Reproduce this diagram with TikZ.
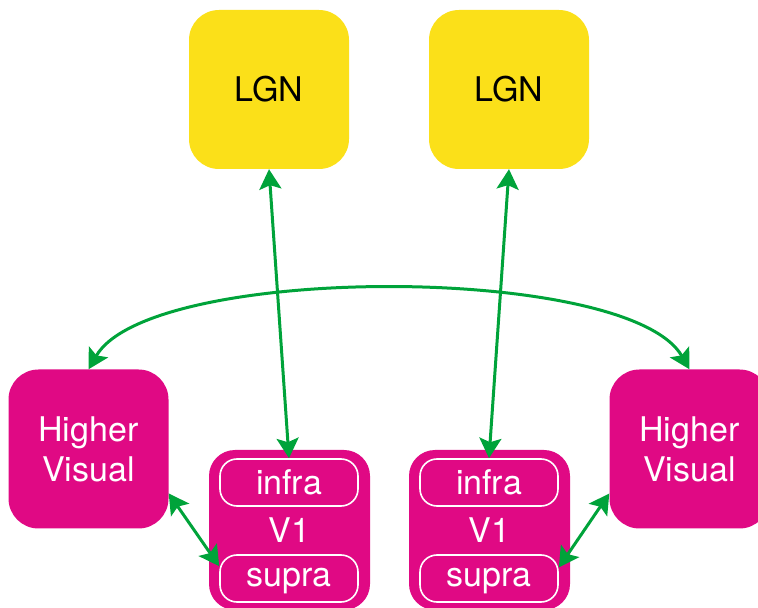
\documentclass[tikz,border=0pt]{standalone}
\usepackage{fontspec}
\setmainfont{TeX Gyre Heros}
\usepackage{tikz}
\usetikzlibrary{arrows.meta}
\definecolor{lgnyellow}{RGB}{251,224,25}
\definecolor{cortex}{RGB}{224,9,132}
\definecolor{fibre}{RGB}{0,163,58}

\begin{document}
\begin{tikzpicture}[x=1pt,y=1pt,
  area/.style={rounded corners=30pt,inner sep=0pt,minimum width=160pt,minimum height=159pt,fill=cortex,text=white,align=center,font=\fontsize{34}{40}\selectfont},
  lgn/.style={area,fill=lgnyellow,text=black,font=\fontsize{34}{40}\selectfont},
  layer/.style={draw=white,line width=1.6pt,rounded corners=17pt,inner sep=0pt,minimum width=138pt,minimum height=47pt,text=white,font=\fontsize{34}{40}\selectfont},
  link/.style={{Stealth[length=20pt,width=22pt,inset=4pt]}-{Stealth[length=20pt,width=22pt,inset=4pt]},line width=3pt,draw=fibre}]
\useasboundingbox (0,0) rectangle (758,608);
\clip (0,0) rectangle (758,608);
\node[lgn] (lgnA) at (269,518.5) {LGN};
\node[lgn] (lgnB) at (509,518.5) {LGN};
\node[area] (hvA) at (88.5,159) {Higher\\Visual};
\node[area] (hvB) at (689.5,159) {Higher\\Visual};
\node[area,minimum width=161pt,minimum height=160pt,rounded corners=26pt] (vA) at (289.5,78) {V1};
\node[area,minimum width=161pt,minimum height=160pt,rounded corners=26pt] (vB) at (489.5,78) {V1};
\node[layer] (infraA) at (289,125.5) {infra};
\node[layer] (infraB) at (489,125.5) {infra};
\node[layer,text depth=2pt] (supraA) at (289,29.5) {supra};
\node[layer,text depth=2pt] (supraB) at (489,29.5) {supra};
\draw[link] (lgnA.south) -- (infraA.north);
\draw[link] (lgnB.south) -- (infraB.north);
\draw[link] (hvA.north) .. controls +(61,106) and +(-61,106) .. (hvB.north);
\draw[link] (hvA.-29) -- (supraA.170);
\draw[link] (hvB.209) -- (supraB.9);
\end{tikzpicture}
\end{document}
